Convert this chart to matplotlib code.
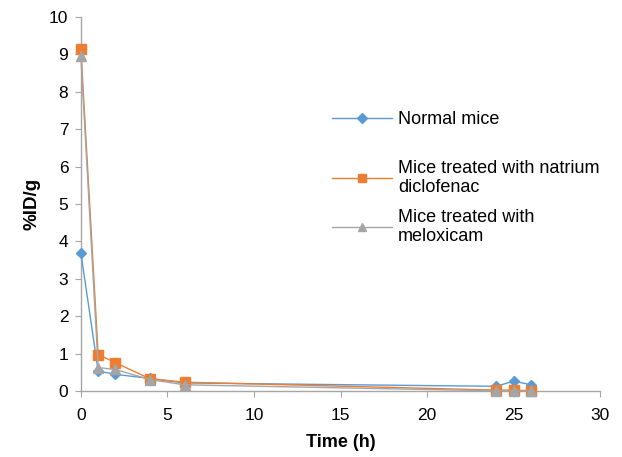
import matplotlib
matplotlib.use("Agg")
import matplotlib.pyplot as plt

plt.rcParams.update({
    "font.family": ["Liberation Sans", "DejaVu Sans"],
    "font.size": 13,
})

time_h = [0, 1, 2, 4, 6, 24, 25, 26]
normal = [3.7, 0.54, 0.45, 0.34, 0.22, 0.13, 0.27, 0.17]
diclofenac = [9.15, 0.98, 0.76, 0.33, 0.24, 0.03, 0.03, 0.01]
meloxicam = [8.95, 0.63, 0.58, 0.31, 0.17, 0.01, 0.01, 0.0]

labels = ["Normal mice", "Mice treated with natrium\ndiclofenac",
          "Mice treated with\nmeloxicam"]
colors = ["#5B9BD5", "#ED7D31", "#A5A5A5"]
markers = ["D", "s", "^"]
msizes = [5, 7, 7]

fig = plt.figure(figsize=(6.22, 4.57), dpi=100)
ax = fig.add_axes([0.130, 0.144, 0.835, 0.819])

series = [normal, diclofenac, meloxicam]
handles = []
for vals, lab, c, m, ms in zip(series, labels, colors, markers, msizes):
    h, = ax.plot(time_h, vals, color=c, marker=m, markersize=ms,
                 linewidth=1.0, label=lab, clip_on=False, zorder=3)
    handles.append(h)

ax.set_xlim(0, 30)
ax.set_ylim(0, 10)
ax.set_xticks(range(0, 31, 5))
ax.set_yticks(range(0, 11))

for side in ("top", "right"):
    ax.spines[side].set_visible(False)
for side in ("left", "bottom"):
    ax.spines[side].set_color("#A6A6A6")
    ax.spines[side].set_linewidth(1.0)
ax.tick_params(axis="both", direction="out", length=4, color="#A6A6A6",
               labelsize=12.5)
ax.tick_params(axis="x", pad=8)
ax.tick_params(axis="y", pad=5)

ax.set_xlabel("Time (h)", fontweight="bold", fontsize=13, labelpad=8)
ax.set_ylabel("%ID/g", fontweight="bold", fontsize=13.5, labelpad=6)

# one legend per entry so the uneven vertical spacing of the original fits
leg_y = [120, 178, 227]  # pixel centre of each entry (from top)
for h, y in zip(handles, leg_y):
    leg = fig.legend(handles=[h], loc="center left",
                     bbox_to_anchor=(332 / 622, 1 - y / 457), frameon=False,
                     fontsize=13, handlelength=3.3, handletextpad=0.35,
                     borderaxespad=0, borderpad=0)
    for lh in leg.legend_handles:
        lh.set_markersize(5.5)

fig.savefig("out.png", dpi=100)
